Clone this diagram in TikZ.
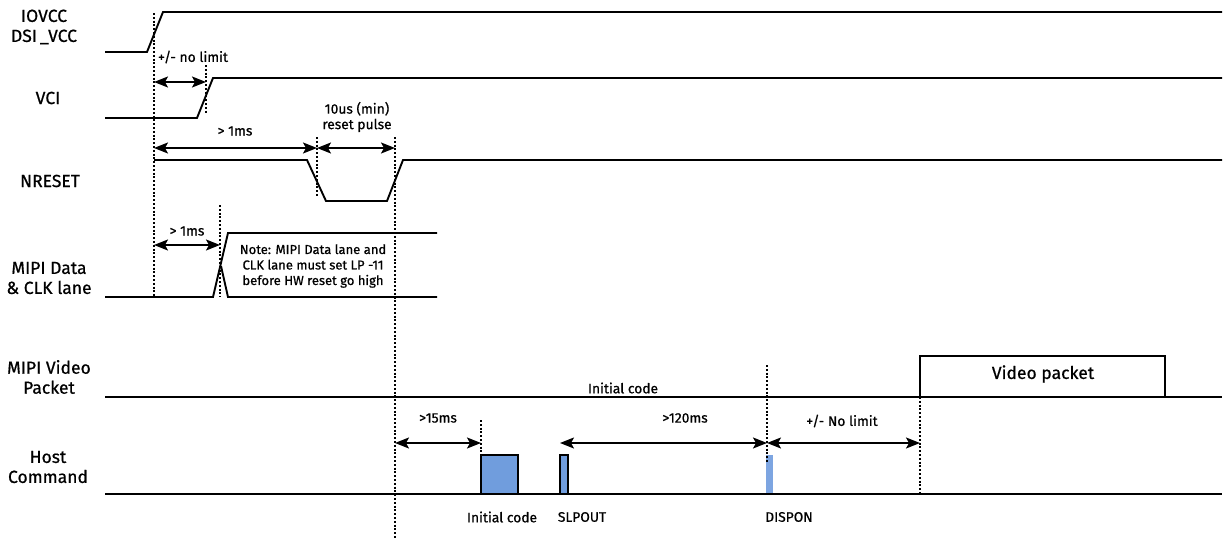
\documentclass[tikz,border=0pt]{standalone}
\usepackage{fontspec}
\setmainfont{Fira Sans}[FakeBold=0.7]
\usetikzlibrary{arrows.meta}
\definecolor{boxblue}{RGB}{112,157,221}
\definecolor{barblue}{RGB}{125,165,225}
\begin{document}
\begin{tikzpicture}[x=1pt,y=-1pt,
  sig/.style={line width=1.9pt, line join=miter},
  vdot/.style={line width=1.9pt, dash pattern=on 1.9pt off 1.9pt},
  dim/.style={line width=1.6pt, {Stealth[length=14pt,width=11pt,inset=3pt]}-{Stealth[length=14pt,width=11pt,inset=3pt]}},
  lab/.style={font=\fontsize{17.5}{20}\selectfont, align=center, inner sep=0pt},
  sm/.style={font=\fontsize{13.8}{15.5}\selectfont, align=center, inner sep=0pt},
  cmdbox/.style={draw, line width=1.6pt, fill=boxblue}]
\useasboundingbox (0,0) rectangle (1228,539);

% left labels
\node[lab] (l1) at (44,27) {IOVCC\\DSI\,\_VCC};
\node[lab] (l2) at (48,98) {VCI};
\node[lab] (l3) at (50,181) {NRESET};
\node[lab] (l4) at (49,278) {MIPI Data\\\& CLK lane};
\node[lab] (l5) at (49,377) {MIPI Video\\Packet};
\node[lab] (l6) at (48,467) {Host\\Command};

% signals
\draw[sig] (105,52) -- (147,52) -- (163,12) -- (1222,12);
\draw[sig] (105,118) -- (197,118) -- (213,78) -- (1222,78);
\draw[sig] (154,160) -- (307,160) -- (326,201) -- (387,201) -- (403,160) -- (1222,160);
\draw[sig] (105,297) -- (213,297) -- (228,233) -- (437,233);
\draw[sig] (221,266) -- (228,297) -- (437,297);
\draw[sig] (105,397) -- (1222,397);
\draw[sig] (920,397) -- (920,356) -- (1165,356) -- (1165,397);
\draw[sig] (105,494) -- (1222,494);

% command boxes
\draw[cmdbox] (481,455) rectangle (518,494);
\draw[cmdbox] (560,455) rectangle (568,494);
\fill[barblue] (766,455) rectangle (773,493);

% guide coordinates
\coordinate (a1) at (154,82);  \coordinate (a2) at (206,82);
\coordinate (b1) at (154,148); \coordinate (b2) at (317,148); \coordinate (b3) at (395,148);
\coordinate (c1) at (154,245); \coordinate (c2) at (220,245);
\coordinate (d1) at (395,443); \coordinate (d2) at (481,443);
\coordinate (d3) at (560,443); \coordinate (d4) at (767,443); \coordinate (d5) at (920,443);

% dotted guides
\draw[vdot] (154,13) -- (154,297);
\draw[vdot] (206,65) -- (206,113);
\draw[vdot] (317,137) -- (317,197);
\draw[vdot] (395,137) -- (395,539);
\draw[vdot] (220,205) -- (220,297);
\draw[vdot] (481,420) -- (481,455);
\draw[vdot] (767,365) -- (767,462);
\draw[vdot] (920,397) -- (920,494);

% dimension arrows
\draw[dim] (a1) -- (a2);
\draw[dim] (b1) -- (b2);
\draw[dim] (b2) -- (b3);
\draw[dim] (c1) -- (c2);
\draw[dim] (d1) -- (d2);
\draw[dim] (d3) -- (d4);
\draw[dim] (d4) -- (d5);

% dimension labels
\node[sm] (t1) at (193,57) {+/- no limit};
\node[sm] (t2) at (235,131) {> 1ms};
\node[sm] (t3) at (357,117) {10us (min)\\reset pulse};
\node[sm] (t4) at (187,231) {> 1ms};
\node[sm, font=\fontsize{13}{15.5}\selectfont] (t5) at (313,266) {Note: MIPI Data lane and\\CLK lane must set LP -11\\before HW reset go high};
\node[sm] (t6) at (623,388) {Initial code};
\node[lab] (t7) at (1043,374) {Video packet};
\node[sm] (t8) at (438,418) {>15ms};
\node[sm] (t9) at (685,418) {>120ms};
\node[sm] (t10) at (842,421) {+/- No limit};
\node[sm] (t11) at (502,517) {Initial code};
\node[sm] (t12) at (582,517) {SLPOUT};
\node[sm] (t13) at (789,517) {DISPON};
\end{tikzpicture}
\end{document}
